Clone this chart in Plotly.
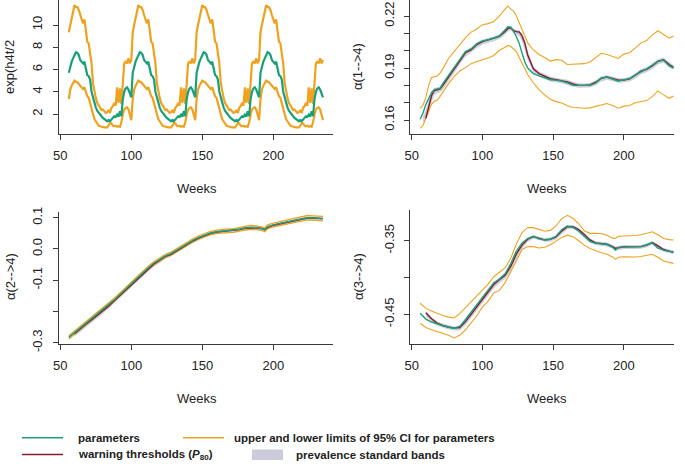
import plotly.graph_objects as go

# ---------------- data ----------------
# Panel A: exp(h4t/2), weekly values, weeks 56..235
weeks_a = list(range(56, 236))
exp_param = [
    5.7, 6.3, 6.7, 7.0, 7.3, 7.55, 7.5, 7.3, 6.85, 6.7, 6.55, 6.7, 6.0, 5.5, 5.4, 5.1, 4.0, 3.45, 3.0, 2.6, 2.3, 2.1, 1.95, 1.8, 1.65, 1.5, 1.45, 1.35, 1.45, 1.35, 1.55, 1.65, 1.8, 1.75, 1.95, 1.75, 2.25, 1.8, 3.3, 4.0, 4.3, 4.4, 4.2, 3.9, 3.5,
    5.7, 6.3, 6.7, 7.0, 7.3, 7.55, 7.5, 7.3, 6.85, 6.7, 6.55, 6.7, 6.0, 5.5, 5.4, 5.1, 4.0, 3.45, 3.0, 2.6, 2.3, 2.1, 1.95, 1.8, 1.65, 1.5, 1.45, 1.35, 1.45, 1.35, 1.55, 1.65, 1.8, 1.75, 1.95, 1.75, 2.25, 1.8, 3.3, 4.0, 4.3, 4.4, 4.2, 3.9, 3.5,
    5.7, 6.3, 6.7, 7.0, 7.3, 7.55, 7.5, 7.3, 6.85, 6.7, 6.55, 6.7, 6.0, 5.5, 5.4, 5.1, 4.0, 3.45, 3.0, 2.6, 2.3, 2.1, 1.95, 1.8, 1.65, 1.5, 1.45, 1.35, 1.45, 1.35, 1.55, 1.65, 1.8, 1.75, 1.95, 1.75, 2.25, 1.8, 3.3, 4.0, 4.3, 4.4, 4.2, 3.9, 3.5,
    5.7, 6.3, 6.7, 7.0, 7.3, 7.55, 7.5, 7.3, 6.85, 6.7, 6.55, 6.7, 6.0, 5.5, 5.4, 5.1, 4.0, 3.45, 3.0, 2.6, 2.3, 2.1, 1.95, 1.8, 1.65, 1.5, 1.45, 1.35, 1.45, 1.35, 1.55, 1.65, 1.8, 1.75, 1.95, 1.75, 2.25, 1.8, 3.3, 4.0, 4.3, 4.4, 4.2, 3.9, 3.5,
]
exp_upper = [
    9.35, 10.0, 10.75, 11.2, 11.8, 11.6, 11.6, 11.35, 10.9, 10.4, 10.15, 10.5, 9.4, 8.5, 8.35, 7.6, 6.55, 4.8, 3.9, 3.45, 3.0, 2.75, 2.55, 2.35, 2.4, 2.2, 2.1, 2.15, 2.35, 2.1, 2.55, 2.7, 3.0, 2.75, 4.4, 3.0, 4.3, 2.9, 5.1, 6.55, 6.7, 6.55, 7.0, 6.55, 6.85,
    9.35, 10.0, 10.75, 11.2, 11.8, 11.6, 11.6, 11.35, 10.9, 10.4, 10.15, 10.5, 9.4, 8.5, 8.35, 7.6, 6.55, 4.8, 3.9, 3.45, 3.0, 2.75, 2.55, 2.35, 2.4, 2.2, 2.1, 2.15, 2.35, 2.1, 2.55, 2.7, 3.0, 2.75, 4.4, 3.0, 4.3, 2.9, 5.1, 6.55, 6.7, 6.55, 7.0, 6.55, 6.85,
    9.35, 10.0, 10.75, 11.2, 11.8, 11.6, 11.6, 11.35, 10.9, 10.4, 10.15, 10.5, 9.4, 8.5, 8.35, 7.6, 6.55, 4.8, 3.9, 3.45, 3.0, 2.75, 2.55, 2.35, 2.4, 2.2, 2.1, 2.15, 2.35, 2.1, 2.55, 2.7, 3.0, 2.75, 4.4, 3.0, 4.3, 2.9, 5.1, 6.55, 6.7, 6.55, 7.0, 6.55, 6.85,
    9.35, 10.0, 10.75, 11.2, 11.8, 11.6, 11.6, 11.35, 10.9, 10.4, 10.15, 10.5, 9.4, 8.5, 8.35, 7.6, 6.55, 4.8, 3.9, 3.45, 3.0, 2.75, 2.55, 2.35, 2.4, 2.2, 2.1, 2.15, 2.35, 2.1, 2.55, 2.7, 3.0, 2.75, 4.4, 3.0, 4.3, 2.9, 5.1, 6.55, 6.7, 6.55, 7.0, 6.55, 6.85,
]
exp_lower = [
    3.35, 4.2, 4.55, 4.8, 5.0, 4.9, 4.85, 4.7, 4.55, 4.3, 4.25, 4.4, 3.9, 3.6, 3.45, 3.0, 2.55, 1.95, 1.55, 1.35, 1.15, 0.95, 0.9, 0.85, 0.85, 0.8, 0.8, 0.8, 0.95, 1.2, 1.15, 0.95, 0.9, 0.95, 0.85, 0.9, 0.85, 1.25, 1.95, 2.4, 2.55, 2.6, 2.4, 1.95, 1.45,
    3.35, 4.2, 4.55, 4.8, 5.0, 4.9, 4.85, 4.7, 4.55, 4.3, 4.25, 4.4, 3.9, 3.6, 3.45, 3.0, 2.55, 1.95, 1.55, 1.35, 1.15, 0.95, 0.9, 0.85, 0.85, 0.8, 0.8, 0.8, 0.95, 1.2, 1.15, 0.95, 0.9, 0.95, 0.85, 0.9, 0.85, 1.25, 1.95, 2.4, 2.55, 2.6, 2.4, 1.95, 1.45,
    3.35, 4.2, 4.55, 4.8, 5.0, 4.9, 4.85, 4.7, 4.55, 4.3, 4.25, 4.4, 3.9, 3.6, 3.45, 3.0, 2.55, 1.95, 1.55, 1.35, 1.15, 0.95, 0.9, 0.85, 0.85, 0.8, 0.8, 0.8, 0.95, 1.2, 1.15, 0.95, 0.9, 0.95, 0.85, 0.9, 0.85, 1.25, 1.95, 2.4, 2.55, 2.6, 2.4, 1.95, 1.45,
    3.35, 4.2, 4.55, 4.8, 5.0, 4.9, 4.85, 4.7, 4.55, 4.3, 4.25, 4.4, 3.9, 3.6, 3.45, 3.0, 2.55, 1.95, 1.55, 1.35, 1.15, 0.95, 0.9, 0.85, 0.85, 0.8, 0.8, 0.8, 0.95, 1.2, 1.15, 0.95, 0.9, 0.95, 0.85, 0.9, 0.85, 1.25, 1.95, 2.4, 2.55, 2.6, 2.4, 1.95, 1.45,
]

# Panel B: alpha(1-->4)
weeks_b = [56, 58, 60, 62, 64, 66, 68, 70, 72, 76, 80, 84, 88, 92, 96, 100, 104, 108, 112, 116,
           118, 120, 122, 124, 126, 128, 130, 132, 136, 140, 144, 148, 152, 156, 160, 164, 168,
           172, 176, 180, 184, 188, 192, 196, 200, 204, 208, 212, 216, 220, 224, 228, 232, 235]
a14_param = [0.1604, 0.1640, 0.1690, 0.1725, 0.1758, 0.1775, 0.1778, 0.1783, 0.1810, 0.1858, 0.1905, 0.1950, 0.1995, 0.2010, 0.2040, 0.2056, 0.2062, 0.2073, 0.2085, 0.2120,
             0.2138, 0.2135, 0.2112, 0.2080, 0.2042, 0.1985, 0.1935, 0.1900, 0.1868, 0.1855, 0.1842, 0.1832, 0.1830, 0.1825, 0.1814, 0.1800, 0.1800,
             0.1800, 0.1800, 0.1812, 0.1843, 0.1848, 0.1835, 0.1824, 0.1833, 0.1837, 0.1860, 0.1880, 0.1895, 0.1915, 0.1938, 0.1945, 0.1912, 0.1900]
a14_warn = [None, None, 0.1610, 0.1675, 0.1740, 0.1770, 0.1775, 0.1778, 0.1800, 0.1848, 0.1895, 0.1942, 0.1988, 0.2005, 0.2035, 0.2052, 0.2062, 0.2070, 0.2082, 0.2110,
            0.2128, 0.2132, 0.2115, 0.2110, 0.2108, 0.2085, 0.2042, 0.1975, 0.1895, 0.1868, 0.1852, 0.1838, 0.1832, 0.1828, 0.1820, 0.1808, 0.1800,
            0.1800, 0.1802, 0.1818, 0.1840, 0.1848, 0.1840, 0.1830, 0.1830, 0.1838, 0.1858, 0.1882, 0.1892, 0.1912, 0.1938, 0.1948, 0.1920, 0.1905]
a14_upper = [0.1667, 0.1685, 0.1730, 0.1800, 0.1845, 0.1851, 0.1854, 0.1870, 0.1895, 0.1955, 0.1995, 0.2035, 0.2075, 0.2107, 0.2125, 0.2150, 0.2156, 0.2168, 0.2200, 0.2240,
             0.2257, 0.2240, 0.2228, 0.2200, 0.2160, 0.2120, 0.2080, 0.2045, 0.2004, 0.1978, 0.1960, 0.1940, 0.1948, 0.1945, 0.1920, 0.1922, 0.1923,
             0.1925, 0.1935, 0.1962, 0.1985, 0.1978, 0.1965, 0.1955, 0.1980, 0.1988, 0.2015, 0.2045, 0.2058, 0.2090, 0.2115, 0.2092, 0.2072, 0.2085]
a14_lower = [0.1552, 0.1568, 0.1610, 0.1648, 0.1690, 0.1708, 0.1714, 0.1735, 0.1760, 0.1810, 0.1850, 0.1883, 0.1902, 0.1925, 0.1937, 0.1946, 0.1958, 0.1972, 0.2002, 0.2020,
             0.2030, 0.2025, 0.2010, 0.1994, 0.1960, 0.1925, 0.1890, 0.1862, 0.1815, 0.1775, 0.1745, 0.1720, 0.1706, 0.1698, 0.1682, 0.1672, 0.1671,
             0.1668, 0.1670, 0.1678, 0.1690, 0.1695, 0.1684, 0.1668, 0.1680, 0.1684, 0.1700, 0.1705, 0.1712, 0.1735, 0.1768, 0.1745, 0.1725, 0.1738]
a14_band_lo = [None, 0.1585, 0.1600, 0.1640, 0.1700, 0.1745, 0.1755, 0.1760, 0.1775, 0.1825, 0.1872, 0.1920, 0.1965, 0.1988, 0.2015, 0.2035, 0.2045, 0.2055, 0.2068, 0.2092,
               0.2110, 0.2118, 0.2100, 0.2092, 0.2085, 0.2055, 0.2000, 0.1945, 0.1875, 0.1850, 0.1836, 0.1822, 0.1816, 0.1812, 0.1804, 0.1792, 0.1786,
               0.1786, 0.1788, 0.1800, 0.1822, 0.1832, 0.1825, 0.1815, 0.1816, 0.1822, 0.1840, 0.1864, 0.1876, 0.1895, 0.1920, 0.1932, 0.1905, 0.1890]
a14_band_hi = [None, 0.1620, 0.1660, 0.1712, 0.1765, 0.1785, 0.1788, 0.1792, 0.1818, 0.1865, 0.1912, 0.1958, 0.2000, 0.2018, 0.2048, 0.2064, 0.2072, 0.2082, 0.2095, 0.2128,
               0.2142, 0.2142, 0.2126, 0.2120, 0.2116, 0.2098, 0.2060, 0.2000, 0.1910, 0.1880, 0.1864, 0.1850, 0.1844, 0.1840, 0.1832, 0.1820, 0.1812,
               0.1812, 0.1814, 0.1830, 0.1852, 0.1860, 0.1852, 0.1842, 0.1842, 0.1850, 0.1870, 0.1894, 0.1904, 0.1925, 0.1950, 0.1960, 0.1932, 0.1915]

# Panel C: alpha(2-->4)  and Panel D: alpha(3-->4)
weeks_cd = [56, 60, 64, 68, 72, 76, 80, 84, 88, 92, 96, 100, 104, 108, 112, 116, 120, 124, 128, 132,
            136, 140, 144, 148, 152, 156, 160, 164, 168, 172, 176, 180, 184, 188, 192, 194, 196,
            200, 204, 208, 212, 216, 220, 224, 228, 232, 235]
a24_param = [-0.283, -0.268, -0.252, -0.238, -0.224, -0.210, -0.195, -0.180, -0.163, -0.146, -0.128, -0.111, -0.094, -0.077, -0.060, -0.045, -0.034, -0.022, -0.015, -0.004,
             0.008, 0.019, 0.029, 0.038, 0.045, 0.051, 0.055, 0.057, 0.058, 0.059, 0.063, 0.067, 0.069, 0.068, 0.065, 0.061, 0.071,
             0.077, 0.081, 0.085, 0.088, 0.093, 0.098, 0.100, 0.099, 0.098, 0.097]
a24_warn = [None, -0.271, -0.255, -0.241, -0.227, -0.213, -0.198, -0.183, -0.166, -0.149, -0.131, -0.114, -0.097, -0.080, -0.063, -0.048, -0.036, -0.024, -0.017, -0.006,
            0.006, 0.017, 0.027, 0.036, 0.044, 0.050, 0.054, 0.056, 0.057, 0.058, 0.062, 0.066, 0.068, 0.068, 0.065, 0.062, 0.069,
            0.076, 0.080, 0.084, 0.087, 0.092, 0.097, 0.099, 0.099, 0.098, 0.097]
a24_upper = [-0.278, -0.263, -0.247, -0.233, -0.219, -0.205, -0.190, -0.175, -0.158, -0.141, -0.123, -0.106, -0.089, -0.072, -0.055, -0.040, -0.029, -0.017, -0.010, 0.001,
             0.013, 0.024, 0.034, 0.043, 0.050, 0.056, 0.060, 0.063, 0.064, 0.065, 0.069, 0.073, 0.075, 0.074, 0.071, 0.067, 0.077,
             0.083, 0.087, 0.091, 0.095, 0.100, 0.105, 0.107, 0.106, 0.105, 0.104]
a24_lower = [-0.288, -0.273, -0.257, -0.243, -0.229, -0.215, -0.200, -0.185, -0.168, -0.151, -0.133, -0.116, -0.099, -0.082, -0.065, -0.050, -0.039, -0.027, -0.020, -0.009,
             0.003, 0.014, 0.024, 0.033, 0.040, 0.046, 0.050, 0.051, 0.052, 0.053, 0.057, 0.061, 0.063, 0.062, 0.059, 0.055, 0.065,
             0.071, 0.075, 0.078, 0.081, 0.086, 0.091, 0.093, 0.092, 0.091, 0.090]
a24_band_lo = [None, -0.280, -0.264, -0.250, -0.236, -0.222, -0.207, -0.192, -0.175, -0.158, -0.140, -0.123, -0.106, -0.089, -0.072, -0.057, -0.044, -0.032, -0.024, -0.013,
               -0.001, 0.010, 0.020, 0.029, 0.037, 0.044, 0.048, 0.050, 0.051, 0.052, 0.055, 0.059, 0.062, 0.062, 0.059, 0.056, 0.062,
               0.069, 0.073, 0.077, 0.080, 0.085, 0.090, 0.093, 0.093, 0.092, 0.091]
a24_band_hi = [None, -0.266, -0.250, -0.236, -0.222, -0.208, -0.193, -0.178, -0.161, -0.144, -0.126, -0.109, -0.092, -0.075, -0.058, -0.043, -0.031, -0.020, -0.012, -0.001,
               0.011, 0.022, 0.032, 0.041, 0.049, 0.055, 0.059, 0.061, 0.062, 0.063, 0.067, 0.071, 0.073, 0.073, 0.070, 0.067, 0.074,
               0.080, 0.084, 0.088, 0.091, 0.096, 0.101, 0.103, 0.103, 0.102, 0.101]

a34_param = [-0.4486, -0.4565, -0.4605, -0.4632, -0.4657, -0.4676, -0.4690, -0.4665, -0.4570, -0.4470, -0.4372, -0.4275, -0.4160, -0.4070, -0.4020, -0.3950, -0.3810, -0.3640, -0.3530, -0.3470,
             -0.3440, -0.3475, -0.3490, -0.3480, -0.3440, -0.3350, -0.3300, -0.3320, -0.3370, -0.3440, -0.3512, -0.3535, -0.3542, -0.3552, -0.3590, -0.3627, -0.3590,
             -0.3581, -0.3581, -0.3581, -0.3580, -0.3555, -0.3530, -0.3600, -0.3628, -0.3645, -0.3658]
a34_warn = [None, -0.4480, -0.4560, -0.4620, -0.4652, -0.4672, -0.4688, -0.4680, -0.4600, -0.4500, -0.4400, -0.4300, -0.4190, -0.4095, -0.4030, -0.3970, -0.3850, -0.3680, -0.3560, -0.3480,
            -0.3445, -0.3465, -0.3488, -0.3480, -0.3450, -0.3370, -0.3310, -0.3310, -0.3350, -0.3415, -0.3490, -0.3530, -0.3540, -0.3548, -0.3580, -0.3605, -0.3595,
            -0.3582, -0.3582, -0.3582, -0.3580, -0.3560, -0.3525, -0.3570, -0.3620, -0.3642, -0.3655]
a34_upper = [-0.4350, -0.4420, -0.4456, -0.4490, -0.4515, -0.4538, -0.4550, -0.4490, -0.4410, -0.4335, -0.4258, -0.4180, -0.4090, -0.3990, -0.3930, -0.3870, -0.3740, -0.3545, -0.3390, -0.3320,
             -0.3323, -0.3350, -0.3372, -0.3360, -0.3300, -0.3200, -0.3155, -0.3195, -0.3270, -0.3365, -0.3400, -0.3400, -0.3402, -0.3425, -0.3465, -0.3470, -0.3440,
             -0.3437, -0.3437, -0.3430, -0.3420, -0.3400, -0.3378, -0.3420, -0.3470, -0.3485, -0.3491]
a34_lower = [-0.4622, -0.4680, -0.4710, -0.4736, -0.4756, -0.4785, -0.4822, -0.4785, -0.4710, -0.4615, -0.4520, -0.4400, -0.4320, -0.4210, -0.4175, -0.4070, -0.3920, -0.3750, -0.3620, -0.3580,
             -0.3581, -0.3600, -0.3590, -0.3555, -0.3500, -0.3455, -0.3425, -0.3445, -0.3500, -0.3560, -0.3605, -0.3640, -0.3665, -0.3685, -0.3720, -0.3753, -0.3725,
             -0.3720, -0.3726, -0.3722, -0.3715, -0.3695, -0.3685, -0.3725, -0.3775, -0.3795, -0.3808]
a34_band_lo = [None, -0.4530, -0.4600, -0.4655, -0.4685, -0.4705, -0.4720, -0.4720, -0.4650, -0.4560, -0.4460, -0.4360, -0.4250, -0.4150, -0.4075, -0.4020, -0.3910, -0.3750, -0.3610, -0.3515,
               -0.3475, -0.3490, -0.3515, -0.3510, -0.3485, -0.3415, -0.3345, -0.3335, -0.3370, -0.3435, -0.3515, -0.3560, -0.3570, -0.3578, -0.3610, -0.3640, -0.3630,
               -0.3612, -0.3612, -0.3612, -0.3610, -0.3592, -0.3555, -0.3595, -0.3650, -0.3672, -0.3685]
a34_band_hi = [None, -0.4455, -0.4535, -0.4598, -0.4630, -0.4650, -0.4666, -0.4656, -0.4575, -0.4475, -0.4375, -0.4275, -0.4165, -0.4070, -0.4005, -0.3945, -0.3820, -0.3650, -0.3535, -0.3458,
               -0.3423, -0.3443, -0.3466, -0.3458, -0.3425, -0.3345, -0.3288, -0.3288, -0.3328, -0.3393, -0.3468, -0.3508, -0.3518, -0.3526, -0.3558, -0.3583, -0.3573,
               -0.3560, -0.3560, -0.3560, -0.3558, -0.3538, -0.3503, -0.3548, -0.3598, -0.3620, -0.3633]

# tick labels
x_ticks = [50, 100, 150, 200]
ya_ticks = [2, 4, 6, 8, 10]
yb_ticks = [0.16, 0.17, 0.18, 0.19, 0.20, 0.21, 0.22]
yb_text = ["0.16", " ", " ", "0.19", " ", " ", "0.22"]
yc_ticks = [0.1, 0.0, -0.1, -0.2, -0.3]
yc_text = ["0.1", "0.0", "-0.1", " ", "-0.3"]
yd_ticks = [-0.35, -0.40, -0.45]
yd_text = ["-0.35", " ", "-0.45"]

# ---------------- styling ----------------
W, H = 685, 472
GREEN = "#19a07a"
ORANGE = "#efa21f"
RED = "#861c2c"
BAND = "rgba(196,196,214,0.85)"
FONT = "Liberation Sans, Arial, sans-serif"
AX = "#3a3a3a"


def px(p):
    return p / W


def py(p):
    return 1 - p / H


fig = go.Figure()


def band(x, lo, hi, xa, ya):
    pts = [(a, l, h) for a, l, h in zip(x, lo, hi) if l is not None and h is not None]
    xs = [p[0] for p in pts] + [p[0] for p in reversed(pts)]
    ys = [p[2] for p in pts] + [p[1] for p in reversed(pts)]
    fig.add_trace(go.Scatter(x=xs, y=ys, fill="toself", fillcolor=BAND, line=dict(width=0),
                             mode="lines", xaxis=xa, yaxis=ya, hoverinfo="skip", showlegend=False))


def line(x, y, color, width, xa, ya):
    fig.add_trace(go.Scatter(x=x, y=y, mode="lines", line=dict(color=color, width=width),
                             xaxis=xa, yaxis=ya, showlegend=False, connectgaps=False))


# Panel A
line(weeks_a, exp_upper, ORANGE, 2.2, "x", "y")
line(weeks_a, exp_lower, ORANGE, 2.2, "x", "y")
line(weeks_a, exp_param, GREEN, 2.2, "x", "y")

# Panel B
band(weeks_b, a14_band_lo, a14_band_hi, "x2", "y2")
line(weeks_b, a14_upper, ORANGE, 1.1, "x2", "y2")
line(weeks_b, a14_lower, ORANGE, 1.1, "x2", "y2")
line(weeks_b, a14_warn, RED, 1.4, "x2", "y2")
line(weeks_b, a14_param, GREEN, 1.4, "x2", "y2")

# Panel C
band(weeks_cd, a24_band_lo, a24_band_hi, "x3", "y3")
line(weeks_cd, a24_upper, ORANGE, 1.3, "x3", "y3")
line(weeks_cd, a24_lower, ORANGE, 1.3, "x3", "y3")
line(weeks_cd, a24_warn, RED, 1.4, "x3", "y3")
line(weeks_cd, a24_param, GREEN, 1.4, "x3", "y3")

# Panel D
band(weeks_cd, a34_band_lo, a34_band_hi, "x4", "y4")
line(weeks_cd, a34_upper, ORANGE, 1.1, "x4", "y4")
line(weeks_cd, a34_lower, ORANGE, 1.1, "x4", "y4")
line(weeks_cd, a34_warn, RED, 1.4, "x4", "y4")
line(weeks_cd, a34_param, GREEN, 1.4, "x4", "y4")

common = dict(showline=True, linecolor=AX, linewidth=1, ticks="outside", ticklen=5, tickcolor=AX,
              tickwidth=1, showgrid=False, zeroline=False, mirror=False, fixedrange=True,
              automargin=False, tickfont=dict(family=FONT, size=13, color="#222"))


def xax(dom, rng, anchor):
    return dict(common, domain=dom, range=rng, anchor=anchor, tickvals=x_ticks,
                ticktext=[str(v) for v in x_ticks], ticklabelstandoff=4)


def yax(dom, rng, anchor, vals, text):
    return dict(common, domain=dom, range=rng, anchor=anchor, tickvals=vals, ticktext=text,
                tickangle=-90, ticklabelstandoff=5)


left_dom = [px(58.6), px(333.2)]
right_dom = [px(410.0), px(674.3)]
top_dom = [py(134), py(0)]
botL_dom = [py(344), py(212)]
botR_dom = [py(344), py(210)]

fig.update_layout(
    width=W, height=H, margin=dict(l=0, r=0, t=0, b=0, autoexpand=False),
    paper_bgcolor="white", plot_bgcolor="white", showlegend=False,
    xaxis=xax(left_dom, [48.8, 242.2], "y"),
    yaxis=yax(top_dom, [0.202, 12.247], "x", ya_ticks, [str(v) for v in ya_ticks]),
    xaxis2=xax(right_dom, [48.8, 235.6], "y2"),
    yaxis2=yax(top_dom, [0.15192, 0.22923], "x2", yb_ticks, yb_text),
    xaxis3=xax(left_dom, [48.8, 242.2], "y3"),
    yaxis3=yax(botL_dom, [-0.30416, 0.11824], "x3", yc_ticks, yc_text),
    xaxis4=xax(right_dom, [48.8, 235.6], "y4"),
    yaxis4=yax(botR_dom, [-0.49035, -0.30829], "x4", yd_ticks, yd_text),
)

ann = []
tfont = dict(family=FONT, size=13, color="#222")
for x, y in [(197, 188), (547, 188), (197, 398), (547, 398)]:
    ann.append(dict(text="Weeks", x=px(x), y=py(y), xref="paper", yref="paper",
                    xanchor="center", yanchor="middle", showarrow=False, font=tfont))
for txt, x, y in [("exp(h4t/2", 10, 67), ("α(1-->4)", 358, 67),
                  ("α(2-->4)", 10, 277), ("α(3-->4)", 358, 277)]:
    ann.append(dict(text=txt, x=px(x), y=py(y), xref="paper", yref="paper", textangle=-90,
                    xanchor="center", yanchor="middle", showarrow=False, font=tfont))

# legend (drawn manually)
lfont = dict(family=FONT, size=11.5, color="#222")
legend_items = [
    ("<b>parameters</b>", 76, 437.5),
    ("<b>upper and lower limits of 95% CI for parameters</b>", 232, 437.5),
    ("<b>warning thresholds (<i>P</i><sub>80</sub>)</b>", 76, 454.5),
    ("<b>prevalence standard bands</b>", 294, 454.5),
]
for txt, x, y in legend_items:
    ann.append(dict(text=txt, x=px(x), y=py(y), xref="paper", yref="paper",
                    xanchor="left", yanchor="middle", showarrow=False, font=lfont))
fig.update_layout(annotations=ann)

shapes = [
    dict(type="line", xref="paper", yref="paper", x0=px(22), x1=px(63), y0=py(437.7), y1=py(437.7),
         line=dict(color=GREEN, width=1.5)),
    dict(type="line", xref="paper", yref="paper", x0=px(183), x1=px(224), y0=py(437.7), y1=py(437.7),
         line=dict(color=ORANGE, width=1.5)),
    dict(type="line", xref="paper", yref="paper", x0=px(22), x1=px(63), y0=py(454.5), y1=py(454.5),
         line=dict(color=RED, width=1.5)),
    dict(type="rect", xref="paper", yref="paper", x0=px(252), x1=px(283), y0=py(460), y1=py(449.5),
         line=dict(width=0), fillcolor="#cbcbdb"),
]
fig.update_layout(shapes=shapes)

fig.write_html("out.html", config={"displayModeBar": False, "staticPlot": True},
               post_script="document.body.style.margin='0';document.body.style.padding='0';")
